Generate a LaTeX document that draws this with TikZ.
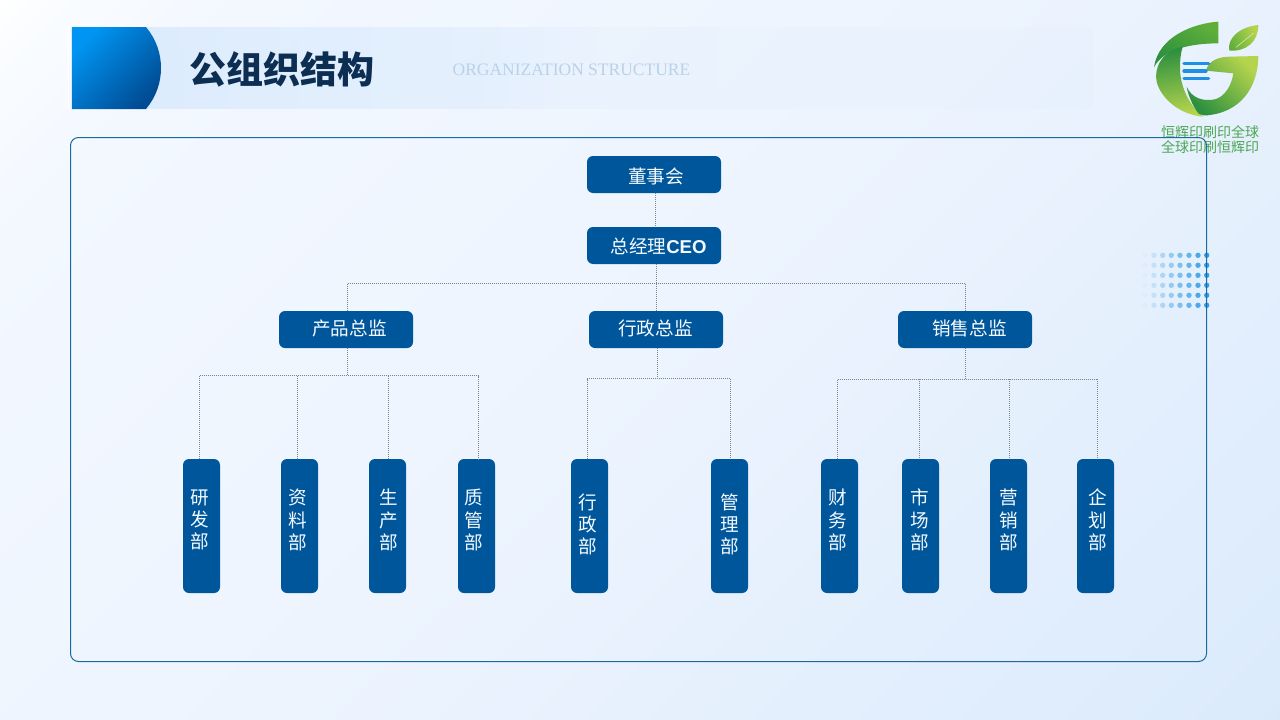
\documentclass[tikz,border=0pt]{standalone}
\usepackage{fontspec}
\setmainfont{Liberation Serif}
\newfontfamily\cjk{Noto Sans CJK SC}
\newfontfamily\cjkb{Noto Sans CJK SC Black}
\newfontfamily\arialf{Liberation Sans}
\usetikzlibrary{fadings}
\definecolor{boxblue}{HTML}{00569B}
\definecolor{framec}{HTML}{1B6A9F}
\definecolor{dotc}{HTML}{7C8691}
\definecolor{labc}{HTML}{F4FAFF}
\definecolor{titlec}{HTML}{0B2E52}
\definecolor{subc}{HTML}{B9D2EA}
\definecolor{logot}{HTML}{4CA655}
\definecolor{dotb}{HTML}{35A0E8}
\definecolor{bandc}{HTML}{DBEBFD}
\definecolor{discA}{HTML}{0095F2}
\definecolor{discB}{HTML}{004C94}
\definecolor{logoG}{HTML}{2A8F3E}
\definecolor{logoH}{HTML}{5FAE3A}
\definecolor{logoI}{HTML}{B5D44E}
\definecolor{logoC}{HTML}{1E8FE6}
\pgfdeclareverticalshading{bgshade}{100bp}{
  color(0bp)=(rgb,255:red,217;green,233;blue,251);
  color(3bp)=(rgb,255:red,220;green,235;blue,252);
  color(50bp)=(rgb,255:red,237;green,244;blue,254);
  color(88bp)=(rgb,255:red,243;green,248;blue,255);
  color(97bp)=(rgb,255:red,250;green,252;blue,255);
  color(100bp)=(rgb,255:red,255;green,255;blue,255)}
\pgfdeclarehorizontalshading{bandshade}{100bp}{
  color(0bp)=(white);
  color(25bp)=(white);
  color(45bp)=(black!45!white);
  color(51bp)=(black!78!white);
  color(100bp)=(black!94!white)}
\pgfdeclarefading{bandfade}{\pgfuseshading{bandshade}}
\tikzset{
  x=1pt,y=-1pt,
  hbox/.style={draw=none,fill=boxblue,rounded corners=6pt,minimum width=134pt,minimum height=37pt,inner sep=0pt},
  vbox/.style={draw=none,fill=boxblue,rounded corners=6pt,minimum width=37pt,minimum height=134pt,inner sep=0pt},
  lab/.style={text=labc,inner sep=0pt,font=\cjk\fontsize{18.6}{22}\selectfont},
  vlab/.style={text=labc,inner sep=0pt,align=center,font=\cjk\fontsize{18.6}{22.2}\selectfont},
  conn/.style={draw=dotc,line width=0.8pt,dash pattern=on 1pt off 1pt},
}
\begin{document}
\begin{tikzpicture}
\useasboundingbox (0,0) rectangle (1280,720);
% background
\begin{scope}
\clip (0,0) rectangle (1280,720);
\node[inner sep=0pt,outer sep=0pt,rotate=45,scale=14.09] (bg) at (640,360) {\pgfuseshading{bgshade}};
\end{scope}
% title band
\fill[bandc,path fading=bandfade] (72,27) rectangle (1095,109);
\draw[white,line width=0.8pt] (68.5,27) -- (68.5,109);
\shade[top color=discA,bottom color=discB,shading angle=45] (72,27) -- (146,27) .. controls (156,39) and (161,53) .. (161,68) .. controls (161,83) and (156,97) .. (146,109) -- (72,109) -- cycle;
\node[inner sep=0pt,text=titlec,font=\cjkb\fontsize{37}{40}\selectfont] (title) at (282,69) {公组织结构};
\node[inner sep=0pt,text=subc,font=\fontsize{17.5}{20}\selectfont] (subtitle) at (571.5,70) {ORGANIZATION STRUCTURE};
% logo
\begin{scope}[shift={(1130,10)},x=0.3333pt,y=-0.3333pt]
  \shade[top color=logoH,bottom color=logoG,shading angle=-30]
    (265,35) .. controls (190,40) and (85,80) .. (72,172) .. controls (100,115) and (190,100) .. (265,100) -- cycle;
  \shade[top color=logoG,bottom color=logoI,shading angle=10]
    (158,110) .. controls (90,125) and (72,180) .. (80,215) .. controls (92,265) and (150,315) .. (220,320) .. controls (175,285) and (150,225) .. (150,175) .. controls (150,150) and (152,130) .. (158,110) -- cycle;
  \shade[top color=logoI,middle color=logoG!70!logoH,bottom color=logoG,shading angle=-45]
    (228,182) .. controls (235,150) and (270,140) .. (300,140) -- (385,138) .. controls (385,210) and (350,300) .. (240,315) .. controls (225,318) and (215,316) .. (205,310) .. controls (190,290) and (175,260) .. (170,230) .. controls (185,265) and (220,275) .. (255,268) .. controls (285,260) and (305,225) .. (310,190) -- cycle;
  \shade[top color=logoI,bottom color=logoH,shading angle=-60]
    (385,45) .. controls (330,50) and (290,85) .. (298,122) .. controls (350,125) and (385,95) .. (385,45) -- cycle;
  \draw[white!60!logoI,line width=0.5pt] (370,70) -- (318,112);
  \draw[logoC,line width=3.2pt,line cap=round] (162,160) -- (236,160);
  \draw[logoC,line width=3.2pt,line cap=round] (162,183) -- (228,183);
  \draw[logoC,line width=3.2pt,line cap=round] (162,205) -- (236,205);
\end{scope}
\node[inner sep=0pt,text=logot,font=\cjk\fontsize{14}{16}\selectfont] (logo1) at (1210,132.5) {恒辉印刷印全球};
\node[inner sep=0pt,text=logot,font=\cjk\fontsize{14}{16}\selectfont] (logo2) at (1210,147.5) {全球印刷恒辉印};
% dots
\foreach \i/\x in {0/1145,1/1154,2/1162.7,3/1171.3,4/1180,5/1189,6/1198,7/1206.7}{
  \foreach \y in {255.3,265.3,275.3,285.3,295.3,305.3}{
    \pgfmathsetmacro{\op}{0.04+0.137*\i}
    \fill[dotb,opacity=\op] (\x,\y) circle (2.7pt);
  }
}
% frame
\draw[framec,line width=1pt,rounded corners=8pt] (70.5,137.5) rectangle (1206.5,661.5);
% top level boxes
\node[hbox] (board) at (654,174.5) {};
\node[hbox] (ceo) at (654,245.5) {};
\node[hbox] (prod) at (346,329.5) {};
\node[hbox] (admin) at (656,329.5) {};
\node[hbox] (sales) at (965,329.5) {};
\node[lab] (boardL) at (656,176) {董事会};
\node[lab] (ceoL) at (658.5,246) {总经理{\arialf\bfseries CEO}};
\node[lab] (prodL) at (349.5,328) {产品总监};
\node[lab] (adminL) at (655.5,328) {行政总监};
\node[lab] (salesL) at (969.5,328) {销售总监};
% department boxes
\foreach \n/\x in {d1/201.5,d2/299.5,d3/387.5,d4/476.5,d5/589.5,d6/729.5,d7/839.5,d8/920.5,d9/1008.5,d10/1095.5}{
  \node[vbox] (\n) at (\x,526) {};
}
\node[vlab] (d1L) at (199.5,520) {研\\发\\部};
\node[vlab] (d2L) at (298,520) {资\\料\\部};
\node[vlab] (d3L) at (389,520) {生\\产\\部};
\node[vlab] (d4L) at (474,520) {质\\管\\部};
\node[vlab] (d5L) at (588,524.5) {行\\政\\部};
\node[vlab] (d6L) at (730,524.5) {管\\理\\部};
\node[vlab] (d7L) at (838,520) {财\\务\\部};
\node[vlab] (d8L) at (920,520) {市\\场\\部};
\node[vlab] (d9L) at (1009,520) {营\\销\\部};
\node[vlab] (d10L) at (1098,520) {企\\划\\部};
% connector junctions
\coordinate (b1) at (347.5,283.5);
\coordinate (b3) at (965,283.5);
\coordinate (j1) at (347.5,375.5);
\coordinate (j2) at (657,378.5);
\coordinate (j3) at (965,379);
% connectors
\draw[conn] (655.5,0 |- board.south) -- (655.5,0 |- ceo.north);
\draw[conn] (656.5,0 |- ceo.south) -- (656.5,0 |- admin.north);
\draw[conn] (b1) -- (b3);
\draw[conn] (b1) -- (347.5,0 |- prod.north);
\draw[conn] (b3) -- (965,0 |- sales.north);
\draw[conn] (347.5,0 |- prod.south) -- (j1);
\draw[conn] (j2 |- admin.south) -- (j2);
\draw[conn] (j3 |- sales.south) -- (j3);
\draw[conn] (199,0 |- d1.north) -- (199,0 |- j1) -- (478.5,0 |- j1) -- (478.5,0 |- d4.north);
\draw[conn] (297.5,0 |- j1) -- (297.5,0 |- d2.north);
\draw[conn] (388.5,0 |- j1) -- (388.5,0 |- d3.north);
\draw[conn] (587,0 |- d5.north) -- (587,0 |- j2) -- (730,0 |- j2) -- (730,0 |- d6.north);
\draw[conn] (837.5,0 |- d7.north) -- (837.5,0 |- j3) -- (1097.5,0 |- j3) -- (1097.5,0 |- d10.north);
\draw[conn] (919.5,0 |- j3) -- (919.5,0 |- d8.north);
\draw[conn] (1009,0 |- j3) -- (1009,0 |- d9.north);
\end{tikzpicture}
\end{document}
